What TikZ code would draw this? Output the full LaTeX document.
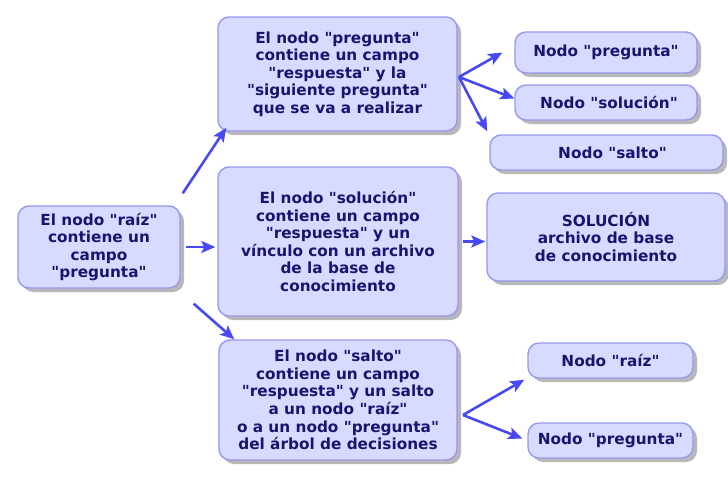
\documentclass[tikz,border=0pt]{standalone}
\usepackage{fontspec}
\newfontfamily\boxfont{DejaVu Sans}[Ligatures=TeXOff]
\usetikzlibrary{arrows.meta,shadows}
\definecolor{boxfill}{RGB}{216,218,255}
\definecolor{boxline}{RGB}{150,152,240}
\definecolor{txt}{RGB}{22,22,110}
\definecolor{arrc}{RGB}{72,72,245}
\tikzset{
  box/.style={draw=boxline, line width=1.4pt, fill=boxfill, rounded corners=11pt,
    align=center, text=txt, inner sep=0pt,
    font=\boxfont\bfseries\fontsize{15.3}{17.6}\selectfont,
    drop shadow={shadow xshift=4pt, shadow yshift=-4pt, fill=black, opacity=0.28}},
  arr/.style={draw=arrc, line width=2.6pt, -{Stealth[length=14pt,width=12pt,inset=3pt]}}
}
\begin{document}
\begin{tikzpicture}[x=1pt,y=-1pt]
\useasboundingbox (0,0) rectangle (728,485);
\node[box, minimum width=162, minimum height=82] (root) at (99,247)
  {El nodo "raíz"\\contiene un\\campo\\"pregunta"};
\node[box, minimum width=239, minimum height=114] (preg) at (337.5,74)
  {El nodo "pregunta"\\contiene un campo\\"respuesta" y la\\"siguiente pregunta"\\que se va a realizar};
\node[box, minimum width=240, minimum height=149] (sol) at (338,241.5)
  {El nodo "solución"\\contiene un campo\\"respuesta" y un\\vínculo con un archivo\\de la base de\\conocimiento};
\node[box, minimum width=238, minimum height=120] (salto) at (338,400)
  {El nodo "salto"\\contiene un campo\\"respuesta" y un salto\\a un nodo "raíz"\\o a un nodo "pregunta"\\del árbol de decisiones};
\node[box, minimum width=238, minimum height=88] (SOL) at (606,237)
  {SOLUCIÓN\\archivo de base\\de conocimiento};
\node[box, minimum width=182, minimum height=41] (np1) at (606,52.5) {Nodo "pregunta"};
\node[box, minimum width=182, minimum height=35] (ns) at (606,102.5) {\hspace*{6pt}Nodo "solución"};
\node[box, minimum width=233, minimum height=35] (nsalto) at (606.5,152.5) {\hspace*{12pt}Nodo "salto"};
\node[box, minimum width=165, minimum height=35] (nraiz) at (610.5,360.5) {Nodo "raíz"};
\node[box, minimum width=165, minimum height=35] (np2) at (610.5,440.5) {Nodo "pregunta"};

\coordinate (f1) at (459,77);
\coordinate (f2) at (463,415);

\draw[arr] ([shift={(2,-12)}]root.north east) -- ([shift={(9,-4)}]preg.south west);
\draw[arr] ([xshift=5pt]root.east) -- ([xshift=-2pt]root.east -| sol.west);
\draw[arr] ([shift={(13,15)}]root.south east) -- ([shift={(16,0)}]salto.north west);
\draw[arr] (f1) -- ([xshift=-12pt]np1.west);
\draw[arr] (f1) -- ([yshift=4pt]ns.west);
\draw[arr] (f1) -- ([shift={(-2,-3)}]nsalto.north west);
\draw[arr] ([xshift=4pt]sol.east) -- ([xshift=-1pt]sol.east -| SOL.west);
\draw[arr] (f2) -- ([shift={(-3,1)}]nraiz.south west);
\draw[arr] (f2) -- ([shift={(-5,-2)}]np2.west);
\end{tikzpicture}
\end{document}
